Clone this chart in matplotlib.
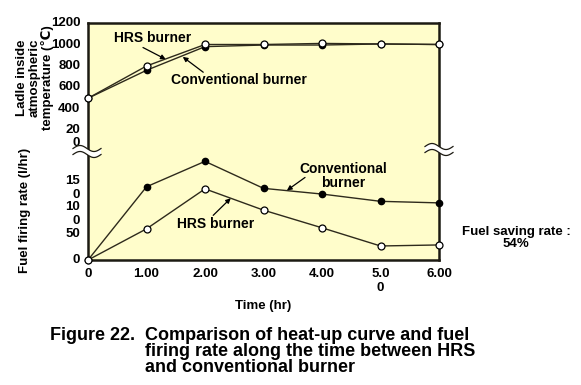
import numpy as np
import matplotlib
matplotlib.use("Agg")
import matplotlib.pyplot as plt
from matplotlib.lines import Line2D
from matplotlib.patches import Polygon
from matplotlib.transforms import blended_transform_factory, ScaledTranslation

plt.rcParams['font.family'] = ['Liberation Sans', 'DejaVu Sans']
plt.rcParams['font.weight'] = 'bold'

# data
time_hr = [0, 1, 2, 3, 4, 5, 6]
temp_hrs = [500, 800, 1000, 1000, 1010, 1005, 1000]
temp_conv = [500, 760, 980, 995, 995, 1005, 1000]
fuel_conv = [0, 141, 190, 138, 127, 113, 110]
fuel_hrs = [0, 60, 137, 96, 62, 27, 29]

x_labels = ['0', '1.00', '2.00', '3.00', '4.00', '5.0\n0', '6.00']
temp_ticks = [1200, 1000, 800, 600, 400, 200]
temp_labels = ['1200', '1000', '800', '600', '400', '20\n0']
fuel_ticks = [150, 100, 50, 0]
fuel_labels = ['15\n0', '10\n0', '50', '0']

W_PX, H_PX = 581, 385
bg = '#FFFDCB'
line_c = '#2e2a1c'
frame_c = '#1c1a12'

fig = plt.figure(figsize=(W_PX / 100, H_PX / 100), dpi=100)

def fx(px):
    return px / W_PX

def fy(py):
    return 1 - py / H_PX

left, right, top, mid, bot = 88, 439, 23, 152, 260
ax1 = fig.add_axes([fx(left), fy(mid), fx(right - left), (mid - top) / H_PX])
ax2 = fig.add_axes([fx(left), fy(bot), fx(right - left), (bot - mid) / H_PX])

for ax in (ax1, ax2):
    ax.set_facecolor(bg)
    ax.set_xlim(0, 6)
    ax.tick_params(length=0, labelleft=False)
    for s in ax.spines.values():
        s.set_linewidth(1.8)
        s.set_color(frame_c)
ax1.spines['bottom'].set_visible(False)
ax2.spines['top'].set_visible(False)
ax1.set_ylim(0, 1200)
ax2.set_ylim(0, 208)
ax1.set_xticks([])
ax1.set_yticks([])
ax2.set_yticks([])

# temperature curves
ax1.plot(time_hr, temp_conv, color=line_c, lw=1.0, marker='o', ms=4.5,
         mfc='black', mec='black', clip_on=False, zorder=3)
ax1.plot(time_hr, temp_hrs, color=line_c, lw=1.0, marker='o', ms=5,
         mfc='white', mec='black', mew=0.9, clip_on=False, zorder=4)

# fuel curves
ax2.plot(time_hr, fuel_conv, color=line_c, lw=1.0, marker='o', ms=4.5,
         mfc='black', mec='black', clip_on=False, zorder=3)
ax2.plot(time_hr, fuel_hrs, color=line_c, lw=1.0, marker='o', ms=5,
         mfc='white', mec='black', mew=0.9, clip_on=False, zorder=4)

# y tick labels drawn as text (wrapped ones keep their first line on the tick)
for ax, ticks, labels in ((ax1, temp_ticks, temp_labels), (ax2, fuel_ticks, fuel_labels)):
    tr = blended_transform_factory(ax.transAxes, ax.transData)
    up = tr + ScaledTranslation(0, 5 / 72, fig.dpi_scale_trans)
    for v, lab in zip(ticks, labels):
        if '\n' in lab:
            ax.text(-0.022, v, lab, transform=up, ha='right', va='top', fontsize=9.5,
                    linespacing=1.2, fontweight='bold')
        else:
            ax.text(-0.022, v, lab, transform=tr, ha='right', va='center', fontsize=9.5,
                    fontweight='bold')

ax2.set_xticks(time_hr, x_labels, fontsize=9.5, fontweight='bold')
ax2.tick_params(axis='x', pad=6)
for lab in ax2.get_xticklabels():
    lab.set_linespacing(1.2)
ax2.set_xlabel('Time (hr)', fontsize=9.5, fontweight='bold', labelpad=4)

# annotations
arw = dict(arrowstyle='-|>', color='black', lw=0.9, mutation_scale=7, shrinkA=0, shrinkB=0)
ax1.text(0.44, 1065, 'HRS burner', fontsize=10, fontweight='bold', va='center')
ax1.annotate('', xy=(1.33, 862), xytext=(0.94, 972), arrowprops=arw)
ax1.text(1.42, 668, 'Conventional burner', fontsize=10, fontweight='bold', va='center')
ax1.annotate('', xy=(1.62, 885), xytext=(1.97, 742), arrowprops=arw)

ax2.text(4.36, 161, 'Conventional\nburner', fontsize=10, fontweight='bold',
         ha='center', va='center', linespacing=1.0)
ax2.annotate('', xy=(3.40, 134), xytext=(3.71, 159), arrowprops=arw)
ax2.text(1.52, 69, 'HRS burner', fontsize=10, fontweight='bold', va='center')
ax2.annotate('', xy=(2.44, 119), xytext=(2.14, 86), arrowprops=arw)

# axis titles
fig.text(fx(35), fy(78), 'Ladle inside\natmospheric\ntemperature (\u2103)', rotation=90,
         ha='center', va='center', fontsize=9.5, fontweight='bold', linespacing=1.0)
fig.text(fx(25), fy(210), 'Fuel firing rate (l/hr)', rotation=90,
         ha='center', va='center', fontsize=9.5, fontweight='bold')

fig.text(fx(516), fy(238), 'Fuel saving rate :\n54%', ha='center', va='center',
         fontsize=9.5, fontweight='bold', linespacing=1.0)

# caption
fig.text(fx(50), fy(327), 'Figure 22.', ha='left', va='top', fontsize=13, fontweight='bold')
fig.text(fx(145), fy(327), 'Comparison of heat-up curve and fuel\nfiring rate along the time between HRS\nand conventional burner',
         ha='left', va='top', fontsize=13, fontweight='bold', linespacing=0.92)

# axis break marks
def draw_break(cx, cy):
    xs = np.linspace(-14, 14, 60)
    ya = cy - 3.5 + 3 * np.sin(2 * np.pi * xs / 28)
    yb = ya + 6
    X = fx(cx + xs)
    poly = np.column_stack([np.r_[X, X[::-1]], np.r_[fy(ya), fy(yb)[::-1]]])
    fig.add_artist(Polygon(poly, closed=True, facecolor='white', edgecolor='none',
                           transform=fig.transFigure, zorder=5))
    for yy in (ya, yb):
        fig.add_artist(Line2D(X, fy(yy), color=frame_c, lw=0.9,
                              transform=fig.transFigure, zorder=6))

draw_break(87, 152)
draw_break(439, 150)

fig.savefig('out.png', dpi=100, facecolor='white')
